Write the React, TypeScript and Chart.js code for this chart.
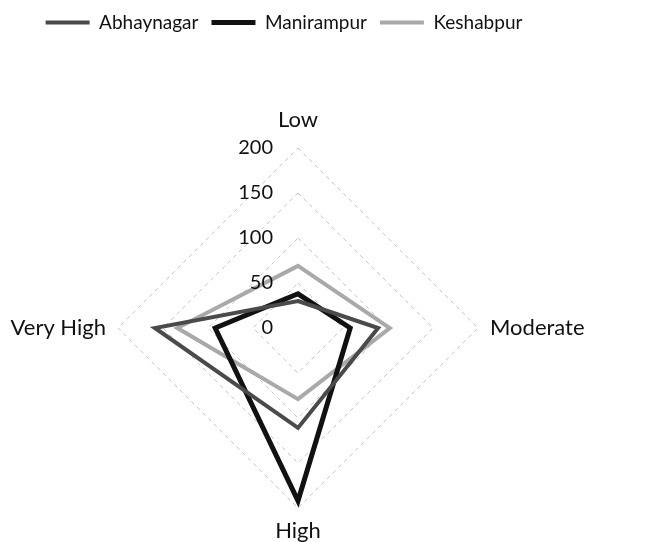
import React, { useEffect, useRef } from 'react';
import { Chart, registerables } from 'chart.js';

Chart.register(...registerables);

const categories = ['Low', 'Moderate', 'High', 'Very High'];
const abhaynagar = [30, 89, 111, 159];
const manirampur = [38, 58, 192, 92];
const keshabpur = [69, 102, 79, 134];
const tickValues = [0, 50, 100, 150, 200];

export default function App() {
  const ref = useRef<HTMLCanvasElement>(null);

  useEffect(() => {
    document.body.style.margin = '0';
    const canvas = ref.current;
    if (!canvas) return;

    const legendSpacer = {
      id: 'legendSpacer',
      beforeInit(chart: any) {
        const legend = chart.legend;
        if (!legend) return;
        const origFit = legend.fit;
        legend.fit = function () {
          origFit.call(this);
          this.height += 72;
        };
      },
      beforeDraw(chart: any) {
        const legend = chart.legend;
        if (legend && !legend._shifted) {
          legend.right -= 28;
          legend._shifted = true;
        }
      },
    };

    const tickLabels = {
      id: 'tickLabels',
      afterDatasetsDraw(chart: any) {
        const s = chart.scales.r;
        const ctx = chart.ctx;
        ctx.save();
        ctx.font = '20px Lato';
        ctx.fillStyle = '#111';
        ctx.textAlign = 'right';
        ctx.textBaseline = 'middle';
        s.ticks.forEach((t: any) => {
          const p = s.getPointPositionForValue(0, t.value);
          ctx.fillText(String(t.value), s.xCenter - 25, p.y);
        });
        ctx.restore();
      },
    };

    const chart = new Chart(canvas, {
      type: 'radar',
      data: {
        labels: categories,
        datasets: [
          {
            label: 'Abhaynagar',
            data: abhaynagar,
            borderColor: '#4a4a4a',
            backgroundColor: '#4a4a4a',
            borderWidth: 4,
            pointRadius: 0,
            fill: false,
          },
          {
            label: 'Manirampur',
            data: manirampur,
            borderColor: '#111111',
            backgroundColor: '#111111',
            borderWidth: 5,
            pointRadius: 0,
            fill: false,
          },
          {
            label: 'Keshabpur',
            data: keshabpur,
            borderColor: '#a9a9a9',
            backgroundColor: '#a9a9a9',
            borderWidth: 4,
            pointRadius: 0,
            fill: false,
          },
        ],
      },
      options: {
        animation: false,
        responsive: true,
        maintainAspectRatio: false,
        layout: { padding: { left: 0, right: 57, top: 0, bottom: 0 } },
        plugins: {
          legend: {
            position: 'top',
            labels: {
              usePointStyle: true,
              pointStyle: 'line',
              pointStyleWidth: 44,
              padding: 13,
              color: '#111',
              font: { family: 'Lato', size: 19 },
            },
          },
          tooltip: { enabled: false },
        },
        scales: {
          r: {
            min: 0,
            max: 200,
            afterBuildTicks: (s: any) => {
              s.ticks = tickValues.map((v) => ({ value: v }));
            },
            ticks: { display: false, stepSize: 50 },
            angleLines: { display: false },
            grid: { color: '#c6c6c6', lineWidth: 1 },
            border: { dash: [4, 4] },
            pointLabels: {
              padding: (ctx: any) => (ctx.index === 0 ? 23 : 12),
              color: '#111',
              font: (ctx: any) =>
                ctx.index === 0
                  ? { family: 'Lato', size: 22, lineHeight: 0.5 }
                  : { family: 'Lato', size: 22, lineHeight: 1 },
            },
          },
        },
      },
      plugins: [legendSpacer, tickLabels],
    });

    return () => chart.destroy();
  }, []);

  return (
    <div style={{ position: 'relative', width: 653, height: 542 }}>
      <canvas ref={ref} />
    </div>
  );
}
